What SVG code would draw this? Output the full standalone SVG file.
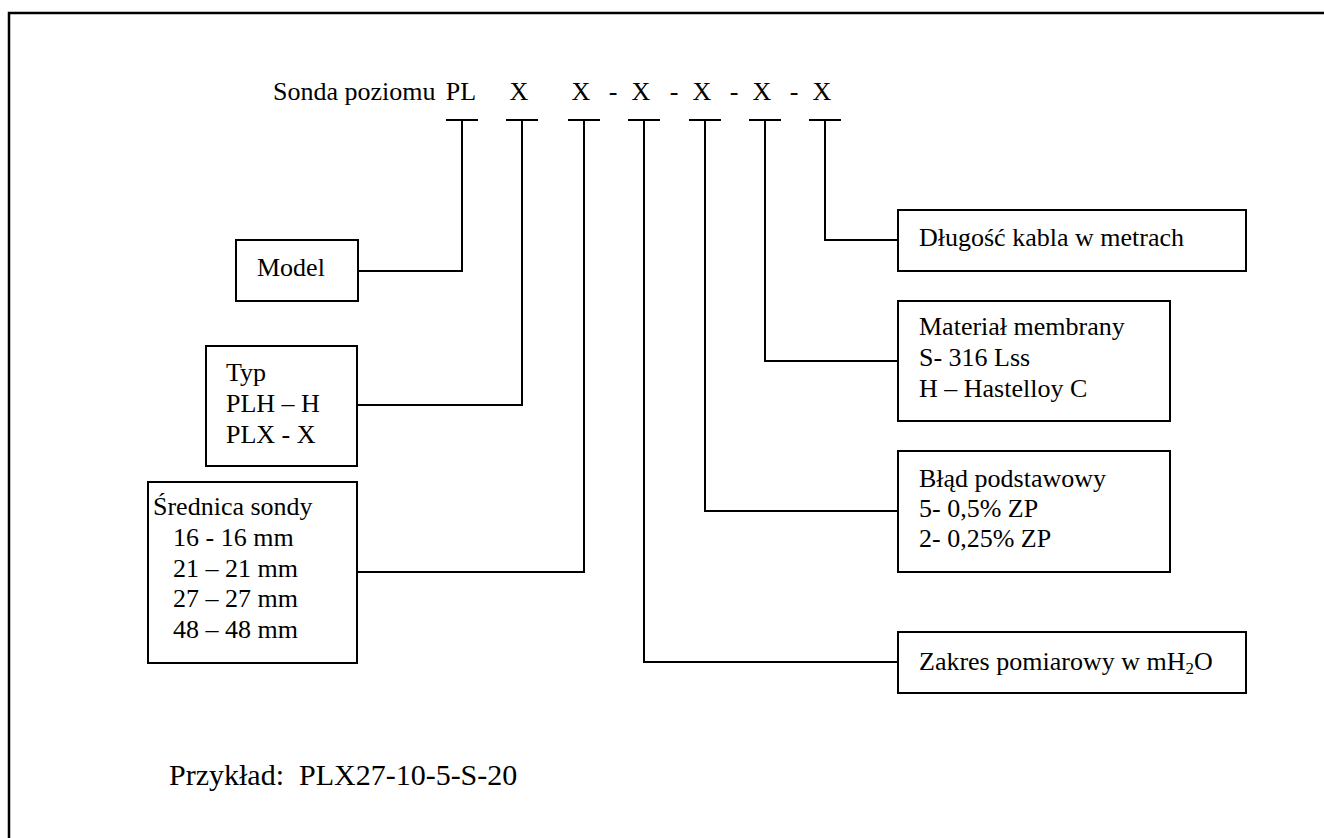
<svg xmlns="http://www.w3.org/2000/svg" width="1324" height="838" viewBox="0 0 1324 838">
<style>
text{font-family:"Liberation Serif","Times New Roman",serif;font-size:26px;fill:#000}
.box{fill:#fff;stroke:#000;stroke-width:2}
.ln{fill:none;stroke:#000;stroke-width:2}
.hd{text-anchor:middle}
</style>
<rect width="1324" height="838" fill="#fff"/>
<path d="M9 838V13H1324" fill="none" stroke="#000" stroke-width="2.5"/>
<g id="header">
<text x="273" y="100">Sonda poziomu</text>
<text class="hd" x="461" y="100">PL</text>
<text class="hd" x="519" y="100">X</text>
<text class="hd" x="581" y="100">X</text>
<text class="hd" x="613" y="100">-</text>
<text class="hd" x="641" y="100">X</text>
<text class="hd" x="674" y="100">-</text>
<text class="hd" x="702" y="100">X</text>
<text class="hd" x="734" y="100">-</text>
<text class="hd" x="762" y="100">X</text>
<text class="hd" x="794" y="100">-</text>
<text class="hd" x="822" y="100">X</text>
</g>
<g id="connectors" class="ln">
<path class="ln" d="M446 120H478M462 120V271H358"/>
<path class="ln" d="M506 120H538M522 120V405H357"/>
<path class="ln" d="M568 120H600M584 120V572H357"/>
<path class="ln" d="M628 120H660M644 120V662H898"/>
<path class="ln" d="M689 120H721M705 120V511H898"/>
<path class="ln" d="M749 120H781M765 120V361H898"/>
<path class="ln" d="M809 120H841M825 120V240H898"/>
</g>
<g id="model">
<rect class="box" x="236" y="240" width="122" height="61"/>
<text x="257" y="276">Model</text>
</g>
<g id="typ">
<rect class="box" x="206" y="346" width="151" height="120"/>
<text x="226" y="381">Typ</text>
<text x="226" y="412">PLH – H</text>
<text x="226" y="443">PLX - X</text>
</g>
<g id="srednica">
<rect class="box" x="148" y="482" width="209" height="181"/>
<text x="153" y="515">Średnica sondy</text>
<text x="173" y="546">16 - 16 mm</text>
<text x="173" y="577">21 – 21 mm</text>
<text x="173" y="607">27 – 27 mm</text>
<text x="173" y="638">48 – 48 mm</text>
</g>
<g id="dlugosc">
<rect class="box" x="898" y="210" width="348" height="61"/>
<text x="919" y="246">Długość kabla w metrach</text>
</g>
<g id="material">
<rect class="box" x="898" y="301" width="272" height="120"/>
<text x="919" y="335">Materiał membrany</text>
<text x="919" y="366">S- 316 Lss</text>
<text x="919" y="397">H – Hastelloy C</text>
</g>
<g id="blad">
<rect class="box" x="898" y="451" width="272" height="121"/>
<text x="919" y="487">Błąd podstawowy</text>
<text x="919" y="517">5- 0,5% ZP</text>
<text x="919" y="547">2- 0,25% ZP</text>
</g>
<g id="zakres">
<rect class="box" x="898" y="632" width="348" height="61"/>
<text x="919" y="670">Zakres pomiarowy w mH<tspan font-size="17" dy="4">2</tspan><tspan dy="-4">O</tspan></text>
</g>
<text id="przyklad" x="169" y="785" style="font-size:30px">Przykład:&#160; PLX27-10-5-S-20</text>
</svg>
